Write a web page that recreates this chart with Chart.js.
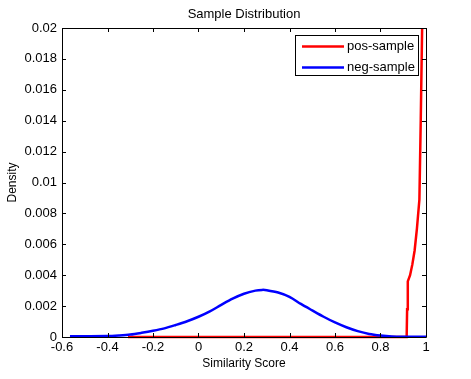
<!DOCTYPE html>
<html>
<head>
<meta charset="utf-8">
<script src="https://cdn.jsdelivr.net/npm/chart.js@4.4.1/dist/chart.umd.min.js"></script>
<style>
  html, body { margin: 0; padding: 0; background: #fff; }
  canvas { display: block; }
</style>
</head>
<body>
<canvas id="chart" width="471" height="379"></canvas>
<script>
// ============================================
// DATA
// ============================================

// pos-sample: flat at zero, then a steep rise close to 1
const posX = [-0.31, 0.915, 0.917, 0.92, 0.93, 0.94, 0.95, 0.96, 0.971, 0.977, 0.984, 0.99];
const posY = [0, 0, 0.0018, 0.0036, 0.0040, 0.0047, 0.0056, 0.0070, 0.0089, 0.0141, 0.0210, 0.0300];

// neg-sample: bell shaped, peak around 0.28
const negX = [-0.565, -0.5, -0.4, -0.35, -0.3, -0.25, -0.2, -0.15, -0.1, -0.05, 0, 0.05, 0.1, 0.15,
              0.2, 0.25, 0.28, 0.3, 0.35, 0.4, 0.45, 0.5, 0.55, 0.6, 0.65, 0.7, 0.75, 0.8, 0.85, 0.9, 1.0];
const negY = [0.00005, 0.00005, 0.00006, 0.0001, 0.00016, 0.00027, 0.0004, 0.00056, 0.00078, 0.00102,
              0.00131, 0.00166, 0.00208, 0.00248, 0.0028, 0.003, 0.00305, 0.00303, 0.00288, 0.0026,
              0.00214, 0.00172, 0.00131, 0.00094, 0.00063, 0.00038, 0.0002, 0.0001, 0.00004, 0.00002, 0.00001];

// axis ticks
const xTickValues = [-0.6, -0.4, -0.2, 0, 0.2, 0.4, 0.6, 0.8, 1];
const yTickValues = [0, 0.002, 0.004, 0.006, 0.008, 0.01, 0.012, 0.014, 0.016, 0.018, 0.02];

const titleText = 'Sample Distribution';
const xTitleText = 'Similarity Score';
const yTitleText = 'Density';

// ============================================
// HELPERS
// ============================================

function toPoints(xs, ys) {
    return xs.map((x, i) => ({ x: x, y: ys[i] }));
}

function fmt(v) {
    return String(parseFloat(Number(v).toFixed(4)));
}

const FONT = "'Liberation Sans', Arial, Helvetica, sans-serif";

// MATLAB style box with inward ticks on all four sides, plus a boxed legend
const matlabAxes = {
    id: 'matlabAxes',
    afterDatasetsDraw(chart) {
        const ctx = chart.ctx;
        const a = chart.chartArea;
        const xs = chart.scales.x;
        const ys = chart.scales.y;
        const tl = 4;

        ctx.save();
        ctx.strokeStyle = '#000';
        ctx.lineWidth = 1;
        ctx.beginPath();
        ctx.rect(a.left + 0.5, a.top + 0.5, a.right - a.left, a.bottom - a.top);

        xTickValues.forEach(v => {
            const px = Math.round(xs.getPixelForValue(v)) + 0.5;
            ctx.moveTo(px, a.bottom);
            ctx.lineTo(px, a.bottom - tl);
            ctx.moveTo(px, a.top);
            ctx.lineTo(px, a.top + tl);
        });
        yTickValues.forEach(v => {
            const py = Math.round(ys.getPixelForValue(v)) + 0.5;
            ctx.moveTo(a.left, py);
            ctx.lineTo(a.left + tl, py);
            ctx.moveTo(a.right, py);
            ctx.lineTo(a.right - tl, py);
        });
        ctx.stroke();

        // legend box in the top right corner
        const lx = 295, ly = 35, lw = 123, lh = 40;
        ctx.fillStyle = '#fff';
        ctx.fillRect(lx, ly, lw, lh);
        ctx.strokeRect(lx + 0.5, ly + 0.5, lw, lh);

        ctx.font = '13px ' + FONT;
        ctx.textBaseline = 'middle';
        ctx.textAlign = 'left';
        chart.data.datasets.forEach((ds, i) => {
            const y = ly + 11.5 + i * 21;
            ctx.strokeStyle = ds.borderColor;
            ctx.lineWidth = 2.5;
            ctx.beginPath();
            ctx.moveTo(302, y);
            ctx.lineTo(344, y);
            ctx.stroke();
            ctx.fillStyle = '#000';
            ctx.fillText(ds.label, 347, y);
        });

        // title above the axes, centred on the plot box
        ctx.textAlign = 'center';
        ctx.fillText(titleText, (a.left + a.right) / 2, 14);
        ctx.restore();
    }
};

// ============================================
// CHART
// ============================================

new Chart(document.getElementById('chart'), {
    type: 'scatter',
    data: {
        datasets: [
            {
                label: 'pos-sample',
                data: toPoints(posX, posY),
                borderColor: '#ff0000',
                backgroundColor: '#ff0000',
                borderWidth: 2.5,
                showLine: true,
                pointRadius: 0,
                tension: 0,
                order: 1,
                clip: { left: 0, top: 0, right: 0, bottom: 2 }
            },
            {
                label: 'neg-sample',
                data: toPoints(negX, negY),
                borderColor: '#0000ff',
                backgroundColor: '#0000ff',
                borderWidth: 2.5,
                showLine: true,
                pointRadius: 0,
                tension: 0.3,
                order: 0,
                clip: { left: 0, top: 0, right: 0, bottom: 2 }
            }
        ]
    },
    options: {
        responsive: false,
        animation: false,
        devicePixelRatio: 1,
        layout: { padding: { left: 0, top: 28, right: 45, bottom: 0 } },
        plugins: {
            legend: { display: false },
            tooltip: { enabled: false },
            title: { display: false }
        },
        scales: {
            x: {
                type: 'linear',
                min: -0.6,
                max: 1,
                grid: { display: false, drawTicks: false },
                border: { display: false },
                afterBuildTicks: s => { s.ticks = xTickValues.map(v => ({ value: v })); },
                afterFit: s => { s.height = 42; },
                ticks: {
                    padding: 3,
                    color: '#000',
                    font: { family: FONT, size: 13 },
                    maxRotation: 0,
                    callback: v => fmt(v)
                },
                title: {
                    display: true,
                    text: xTitleText,
                    color: '#000',
                    font: { family: FONT, size: 12 },
                    padding: { top: 0, bottom: 8 }
                }
            },
            y: {
                type: 'linear',
                min: 0,
                max: 0.02,
                grid: { display: false, drawTicks: false },
                border: { display: false },
                afterBuildTicks: s => { s.ticks = yTickValues.map(v => ({ value: v })); },
                afterFit: s => { s.width = 62; },
                ticks: {
                    padding: 5,
                    color: '#000',
                    font: { family: FONT, size: 13 },
                    callback: v => fmt(v)
                },
                title: {
                    display: true,
                    text: yTitleText,
                    color: '#000',
                    font: { family: FONT, size: 12 },
                    padding: { top: 5, bottom: 0 }
                }
            }
        }
    },
    plugins: [matlabAxes]
});
</script>
</body>
</html>
